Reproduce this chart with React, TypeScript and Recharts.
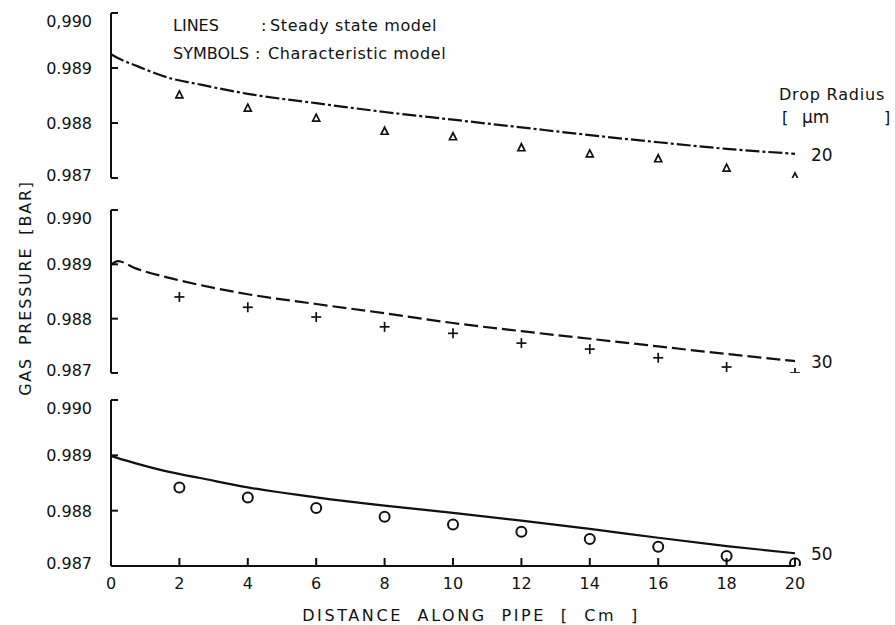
import React from "react";
import { ComposedChart, Line, Scatter, XAxis, YAxis } from "recharts";

// model curves (steady state) sampled along the pipe
const MODEL_X = [0, 0.2, 0.7, 1.7, 2.6, 4, 6, 8, 10, 12, 14, 16, 18, 20];
const LINE_20 = [0.98925, 0.98918, 0.98905, 0.98882, 0.9887, 0.98853, 0.98836, 0.9882, 0.98806, 0.98792, 0.98778, 0.98765, 0.98753, 0.98744];
const LINE_30 = [0.98899, 0.98906, 0.98893, 0.98875, 0.98862, 0.98845, 0.98827, 0.9881, 0.98792, 0.98777, 0.98763, 0.98749, 0.98735, 0.98722];
const LINE_50 = [0.98899, 0.98895, 0.98886, 0.9887, 0.98859, 0.98842, 0.98824, 0.98809, 0.98796, 0.98782, 0.98767, 0.98751, 0.98736, 0.98723];

// characteristic model symbols
const SYMBOL_X = [2, 4, 6, 8, 10, 12, 14, 16, 18, 20];
const SYM_20 = [0.98851, 0.98827, 0.98809, 0.98785, 0.98775, 0.98755, 0.98744, 0.98735, 0.98718, 0.98702];
const SYM_30 = [0.9884, 0.98821, 0.98803, 0.98785, 0.98773, 0.98755, 0.98744, 0.98728, 0.98711, 0.987];
const SYM_50 = [0.98842, 0.98824, 0.98805, 0.98789, 0.98775, 0.98762, 0.98749, 0.98735, 0.98718, 0.98705];

const Y_TICKS = [0.987, 0.988, 0.989, 0.99];
const X_TICKS = [0, 2, 4, 6, 8, 10, 12, 14, 16, 18, 20];

const FONT = "'DejaVu Sans', sans-serif";
const INK = "#111";

const toPoints = (xs: number[], ys: number[]) => xs.map((x, i) => ({ x, p: ys[i] }));

const Triangle = (props: any) => {
    const { cx, cy } = props;
    return (
        <polygon
            points={`${cx},${cy - 4} ${cx - 3.5},${cy + 3} ${cx + 3.5},${cy + 3}`}
            fill="none"
            stroke={INK}
            strokeWidth={1.7}
        />
    );
};

const Cross = (props: any) => {
    const { cx, cy } = props;
    return (
        <g stroke={INK} strokeWidth={1.7}>
            <line x1={cx - 5} y1={cy} x2={cx + 5} y2={cy} />
            <line x1={cx} y1={cy - 5} x2={cx} y2={cy + 5} />
        </g>
    );
};

const Circle = (props: any) => {
    const { cx, cy } = props;
    return <circle cx={cx} cy={cy} r={5} fill="none" stroke={INK} strokeWidth={2} />;
};

function makeYTick(commaTop: boolean) {
    return (props: any) => {
        const { x, y, payload } = props;
        const v = payload.value;
        let label = v.toFixed(3);
        if (commaTop && v === 0.99) label = "0,990";
        const dy = v === 0.99 ? 8 : v === 0.987 ? -3 : 0;
        return (
            <g>
                <line x1={x} y1={y} x2={x + 7} y2={y} stroke={INK} strokeWidth={2} />
                <text x={x - 19} y={y + dy + 6} textAnchor="end" fontFamily={FONT} fontSize={16} fill={INK}>
                    {label}
                </text>
            </g>
        );
    };
}

const XTick = (props: any) => {
    const { x, y, payload } = props;
    return (
        <g>
            {payload.value !== 0 && <line x1={x} y1={y} x2={x} y2={y - 8} stroke={INK} strokeWidth={2} />}
            <text x={x} y={y + 23} textAnchor="middle" fontFamily={FONT} fontSize={16} fill={INK}>
                {payload.value}
            </text>
        </g>
    );
};

function endLabel(text: string) {
    return (props: any) => {
        const { x, y, index } = props;
        if (index !== MODEL_X.length - 1) return <g />;
        return (
            <text x={x + 16} y={y + 7} fontFamily={FONT} fontSize={17} fill={INK}>
                {text}
            </text>
        );
    };
}

type PanelProps = {
    line: number[];
    sym: number[];
    shape: (p: any) => React.ReactElement;
    dash?: string;
    top: number;
    bottom: number;
    showX?: boolean;
    radius: string;
    commaTop?: boolean;
};

function Panel({ line, sym, shape, dash, top, bottom, showX, radius, commaTop }: PanelProps) {
    return (
        <div style={{ position: "absolute", left: 0, top: 0 }}>
            <ComposedChart width={895} height={625} margin={{ top, right: 100, bottom, left: 51 }}>
                <XAxis
                    dataKey="x"
                    type="number"
                    domain={[0, 20]}
                    ticks={X_TICKS}
                    interval={0}
                    hide={!showX}
                    height={30}
                    tickSize={0}
                    tickMargin={0}
                    tickLine={false}
                    axisLine={{ stroke: INK, strokeWidth: 2 }}
                    tick={XTick}
                />
                <YAxis
                    type="number"
                    domain={[0.987, 0.99]}
                    ticks={Y_TICKS}
                    interval={0}
                    width={60}
                    tickSize={0}
                    tickMargin={0}
                    tickLine={false}
                    axisLine={{ stroke: INK, strokeWidth: 2 }}
                    tick={makeYTick(!!commaTop)}
                    allowDataOverflow
                />
                <Line
                    data={toPoints(MODEL_X, line)}
                    dataKey="p"
                    type="monotone"
                    stroke={INK}
                    strokeWidth={2.2}
                    strokeDasharray={dash}
                    dot={false}
                    activeDot={false}
                    isAnimationActive={false}
                    label={endLabel(radius)}
                />
                <Scatter data={toPoints(SYMBOL_X, sym)} dataKey="p" shape={shape} isAnimationActive={false} />
            </ComposedChart>
        </div>
    );
}

export default function App() {
    const txt = { fontFamily: FONT, fontSize: 16, fill: INK } as const;
    return (
        <div style={{ position: "absolute", left: 0, top: 0, width: 895, height: 625, background: "#fff" }}>
            <Panel line={LINE_20} sym={SYM_20} shape={Triangle} dash="14 3 3 3" top={13} bottom={447} radius="20" commaTop />
            <Panel line={LINE_30} sym={SYM_30} shape={Cross} dash="14 5" top={210} bottom={252} radius="30" />
            <Panel line={LINE_50} sym={SYM_50} shape={Circle} top={400} bottom={29} showX radius="50" />
            <svg width={895} height={625} style={{ position: "absolute", left: 0, top: 0, pointerEvents: "none" }}>
                <text x={173} y={31} {...txt}>LINES</text>
                <text x={261} y={31} {...txt}>:</text>
                <text x={270} y={31} {...txt} letterSpacing={0.6}>Steady state model</text>
                <text x={173} y={59} {...txt}>SYMBOLS</text>
                <text x={255} y={59} {...txt}>:</text>
                <text x={268} y={59} {...txt} letterSpacing={0.6}>Characteristic model</text>
                <text x={779} y={100} {...txt} letterSpacing={0.8}>Drop Radius</text>
                <text x={782} y={123} {...txt}>[</text>
                <text x={802} y={123} {...txt} fontSize={17}>µm</text>
                <text x={884} y={123} {...txt}>]</text>
                <text
                    x={25}
                    y={288}
                    {...txt}
                    textAnchor="middle"
                    dominantBaseline="central"
                    letterSpacing={1.8}
                    wordSpacing={5}
                    transform="rotate(-90 25 288)"
                >
                    GAS PRESSURE [BAR]
                </text>
                <text x={471} y={621} {...txt} textAnchor="middle" letterSpacing={2.6} wordSpacing={7}>
                    DISTANCE ALONG PIPE [ Cm ]
                </text>
            </svg>
        </div>
    );
}
